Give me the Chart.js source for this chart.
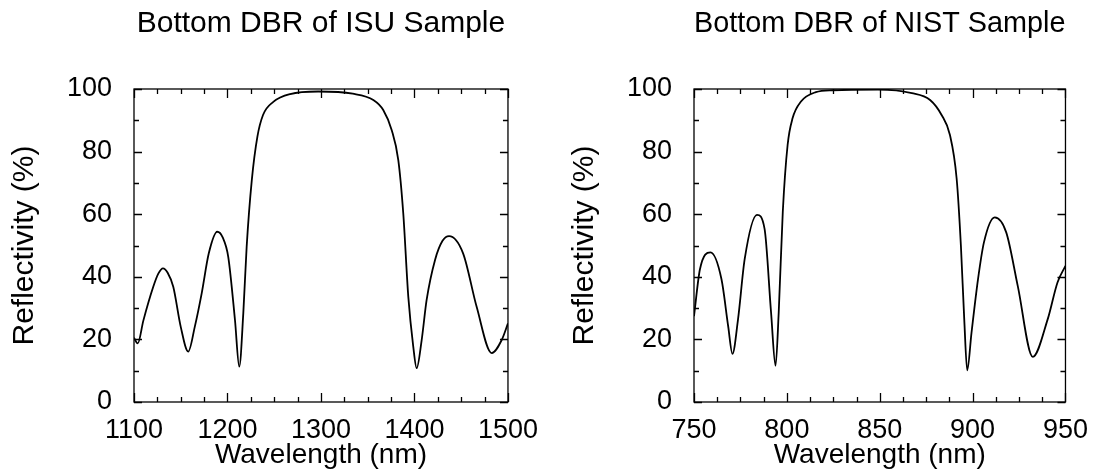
<!DOCTYPE html>
<html>
<head>
<meta charset="utf-8">
<script src="https://cdn.jsdelivr.net/npm/chart.js@4/dist/chart.umd.min.js"></script>
<style>
    html, body { margin: 0; padding: 0; background: #fff; }
    #wrap { position: relative; width: 1100px; height: 472px; }
    #isuBox { position: absolute; left: 0; top: 0; width: 550px; height: 472px; }
    #nistBox { position: absolute; left: 560px; top: 0; width: 540px; height: 472px; }
</style>
</head>
<body>
<div id="wrap">
    <div id="isuBox"><canvas id="isuChart"></canvas></div>
    <div id="nistBox"><canvas id="nistChart"></canvas></div>
</div>
<script>
// ISU sample
const isuWavelength = [1100, 1104, 1110, 1120.6, 1126, 1131, 1136, 1142, 1150, 1158, 1165, 1172.4, 1180, 1189, 1195, 1200.8, 1208, 1212.6, 1216.9, 1220.5, 1226, 1232, 1238, 1249, 1267, 1297, 1334, 1356, 1366.6, 1375.6, 1382.7, 1388, 1393.4, 1398.7, 1402.3, 1407.7, 1413, 1422, 1430, 1437, 1452, 1466.5, 1482.6, 1493.3, 1500];
const isuReflect = [20.5, 18.7, 26, 36.8, 41, 42.7, 41.3, 36.8, 24, 16.1, 24, 34.7, 47.5, 54.4, 52.5, 46.4, 26.2, 11.3, 28.3, 49.6, 70.9, 84.8, 91.7, 95.9, 98.4, 99.2, 98.5, 96.5, 93.3, 86.9, 77.3, 60.3, 33.6, 17.7, 10.8, 19.8, 32.6, 45.4, 51.5, 53, 47.5, 30.4, 15.6, 19.8, 25.1];
const isuTicks = [1100, 1200, 1300, 1400, 1500];

// NIST sample
const nistWavelength = [750, 753.2, 758.9, 764.8, 768.4, 770.7, 773.7, 777.3, 783.9, 788, 791.5, 793.9, 795.6, 797.8, 800.4, 803.1, 807.6, 815.6, 824.5, 849, 867.3, 877.1, 883.3, 887.8, 891.4, 893.7, 895.5, 897.1, 899.4, 902.9, 906.1, 911.9, 918.1, 924.3, 932.4, 940.4, 945.7, 950];
const nistReflect = [27.4, 42.4, 47.8, 39.2, 24.2, 15.4, 26.4, 45.7, 59.8, 55.3, 28.5, 11.6, 28.5, 60.7, 82.1, 90.7, 96, 99, 99.6, 99.8, 98.7, 96.5, 91.7, 85.3, 71.4, 49.9, 26.4, 10.1, 22.1, 39.2, 51, 59, 54.2, 37.1, 14.4, 26.4, 38.2, 43.5];
const nistTicks = [750, 800, 850, 900, 950];

const reflectTicks = [0, 20, 40, 60, 80, 100];

const fontFamily = '"Liberation Sans", Arial, Helvetica, sans-serif';

// frame around the plot plus inward tick marks on all four sides
const frameTicks = {
    id: 'frameTicks',
    afterDatasetsDraw(chart, args, opts) {
        let ctx = chart.ctx;
        let a = chart.chartArea;
        let xs = chart.scales.x, ys = chart.scales.y;
        ctx.save();
        ctx.strokeStyle = '#000';
        ctx.lineWidth = 1.3;
        ctx.strokeRect(a.left, a.top, a.right - a.left, a.bottom - a.top);
        ctx.beginPath();
        for (let v = xs.min; v <= xs.max + 0.001; v += opts.xMinor) {
            let px = Math.round(xs.getPixelForValue(v)) + 0.5;
            let major = opts.xMajor.includes(Math.round(v * 10) / 10);
            let len = major ? 9 : 5;
            ctx.moveTo(px, a.bottom); ctx.lineTo(px, a.bottom - len);
            ctx.moveTo(px, a.top); ctx.lineTo(px, a.top + len);
        }
        for (let v = ys.min; v <= ys.max + 0.001; v += opts.yMinor) {
            let py = Math.round(ys.getPixelForValue(v)) + 0.5;
            let len = (v % 20 === 0) ? 8 : 5;
            ctx.moveTo(a.left, py); ctx.lineTo(a.left + len, py);
            ctx.moveTo(a.right, py); ctx.lineTo(a.right - len, py);
        }
        ctx.stroke();
        ctx.restore();
    }
};

function MakeChart(canvasId, titleText, wavelength, reflect, xTicks, xMinor, rightPad) {
    let points = wavelength.map(function (w, i) { return { x: w, y: reflect[i] }; });
    let ctx = document.getElementById(canvasId).getContext('2d');
    return new Chart(ctx, {
        type: 'line',
        data: {
            datasets: [{
                data: points,
                borderColor: '#000',
                borderWidth: 1.8,
                pointRadius: 0,
                fill: false,
                cubicInterpolationMode: 'monotone'
            }]
        },
        options: {
            responsive: false,
            animation: false,
            layout: { padding: { top: 0, left: 0, right: rightPad, bottom: 0 } },
            plugins: {
                legend: { display: false },
                tooltip: { enabled: false },
                title: {
                    display: true,
                    text: titleText,
                    fullSize: false,
                    color: '#000',
                    font: { family: fontFamily, size: 30, weight: 'normal' },
                    padding: { top: 6, bottom: 47 }
                },
                frameTicks: { xMinor: xMinor, yMinor: 10, xMajor: xTicks }
            },
            scales: {
                x: {
                    type: 'linear',
                    min: xTicks[0],
                    max: xTicks[xTicks.length - 1],
                    afterBuildTicks: function (scale) {
                        scale.ticks = xTicks.map(function (v) { return { value: v }; });
                    },
                    afterFit: function (scale) { scale.height = 70; },
                    grid: { display: false, drawTicks: false },
                    border: { display: false },
                    ticks: {
                        color: '#000',
                        padding: 12,
                        maxRotation: 0,
                        font: { family: fontFamily, size: 27 },
                        callback: function (value) { return String(value); }
                    },
                    title: {
                        display: true,
                        text: 'Wavelength (nm)',
                        color: '#000',
                        font: { family: fontFamily, size: 28 },
                        padding: { top: 0, bottom: 0 }
                    }
                },
                y: {
                    min: 0,
                    max: 100,
                    afterBuildTicks: function (scale) {
                        scale.ticks = reflectTicks.map(function (v) { return { value: v }; });
                    },
                    afterFit: function (scale) { scale.width = 134; },
                    grid: { display: false, drawTicks: false },
                    border: { display: false },
                    ticks: {
                        color: '#000',
                        padding: 22,
                        font: { family: fontFamily, size: 27 }
                    },
                    title: {
                        display: true,
                        text: 'Reflectivity (%)',
                        color: '#000',
                        font: { family: fontFamily, size: 30 },
                        padding: { top: 7, bottom: 0 }
                    }
                }
            }
        },
        plugins: [frameTicks]
    });
}

window.onload = function () {
    let c1 = document.getElementById('isuChart');
    c1.width = 550; c1.height = 472;
    let c2 = document.getElementById('nistChart');
    c2.width = 540; c2.height = 472;
    MakeChart('isuChart', 'Bottom DBR of ISU Sample', isuWavelength, isuReflect, isuTicks, 25, 42);
    MakeChart('nistChart', 'Bottom DBR of NIST Sample', nistWavelength, nistReflect, nistTicks, 12.5, 32);
};
</script>
</body>
</html>
